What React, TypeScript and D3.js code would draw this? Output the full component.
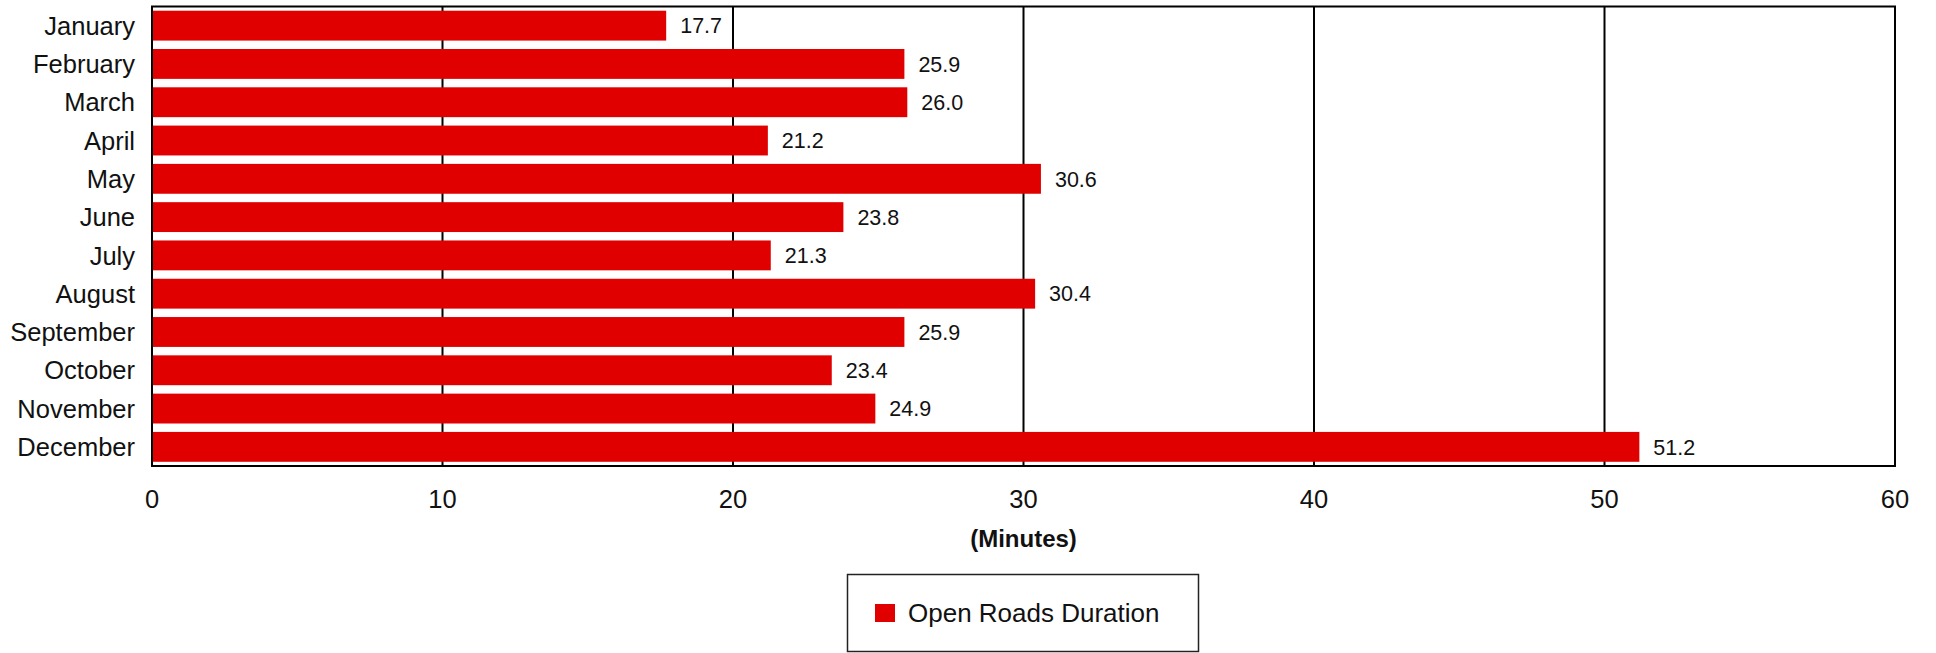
import React, { useEffect } from 'react';
import * as d3 from 'd3';

const months = [
  'January', 'February', 'March', 'April', 'May', 'June',
  'July', 'August', 'September', 'October', 'November', 'December',
];
const durations = [17.7, 25.9, 26.0, 21.2, 30.6, 23.8, 21.3, 30.4, 25.9, 23.4, 24.9, 51.2];
const xTicks = [0, 10, 20, 30, 40, 50, 60];
const seriesName = 'Open Roads Duration';
const axisTitle = '(Minutes)';

const W = 1936;
const H = 653;
const plot = { left: 152, right: 1895, top: 6.5, bottom: 466 };
const red = '#e00000';
const font = 'Arial, "Liberation Sans", Helvetica, sans-serif';

export default function App() {
  useEffect(() => {
    document.body.style.margin = '0';
  }, []);

  const x = d3.scaleLinear().domain([0, 60]).range([plot.left, plot.right]);
  const y = d3
    .scaleBand<string>()
    .domain(months)
    .range([plot.top, plot.bottom])
    .paddingInner(0.22)
    .paddingOuter(0.11);

  const midX = (plot.left + plot.right) / 2;

  return (
    <svg width={W} height={H} style={{ display: 'block', background: '#fff' }} fontFamily={font}>
      {/* grid lines, under the bars */}
      {xTicks.slice(1, -1).map((t) => (
        <line key={`grid-${t}`} x1={x(t)} x2={x(t)} y1={plot.top} y2={plot.bottom} stroke="#000" strokeWidth={2} />
      ))}

      {/* bars */}
      {months.map((m, i) => (
        <rect
          key={`bar-${m}`}
          x={x(0)}
          y={y(m)}
          width={x(durations[i]) - x(0)}
          height={y.bandwidth()}
          fill={red}
        />
      ))}

      {/* frame */}
      <rect
        x={plot.left}
        y={plot.top}
        width={plot.right - plot.left}
        height={plot.bottom - plot.top}
        fill="none"
        stroke="#000"
        strokeWidth={2}
      />

      {/* value labels */}
      {months.map((m, i) => (
        <text
          key={`val-${m}`}
          x={x(durations[i]) + 14}
          y={(y(m) ?? 0) + y.bandwidth() / 2}
          dy="0.36em"
          fontSize={21.5}
          fill="#111"
        >
          {durations[i].toFixed(1)}
        </text>
      ))}

      {/* category labels */}
      {months.map((m) => (
        <text
          key={`cat-${m}`}
          x={plot.left - 17}
          y={(y(m) ?? 0) + y.bandwidth() / 2}
          dy="0.36em"
          fontSize={25.5}
          textAnchor="end"
          fill="#111"
        >
          {m}
        </text>
      ))}

      {/* x tick labels */}
      {xTicks.map((t) => (
        <text key={`tick-${t}`} x={x(t)} y={508} fontSize={25.5} textAnchor="middle" fill="#111">
          {t}
        </text>
      ))}

      <text x={midX} y={547} fontSize={24} fontWeight="bold" textAnchor="middle" fill="#111">
        {axisTitle}
      </text>

      {/* legend */}
      <rect x={847.5} y={574.5} width={351} height={77} fill="#fff" stroke="#222" strokeWidth={1.5} />
      <rect x={875} y={604} width={20} height={18} fill={red} />
      <text x={908} y={622} fontSize={26} fill="#111">
        {seriesName}
      </text>
    </svg>
  );
}
